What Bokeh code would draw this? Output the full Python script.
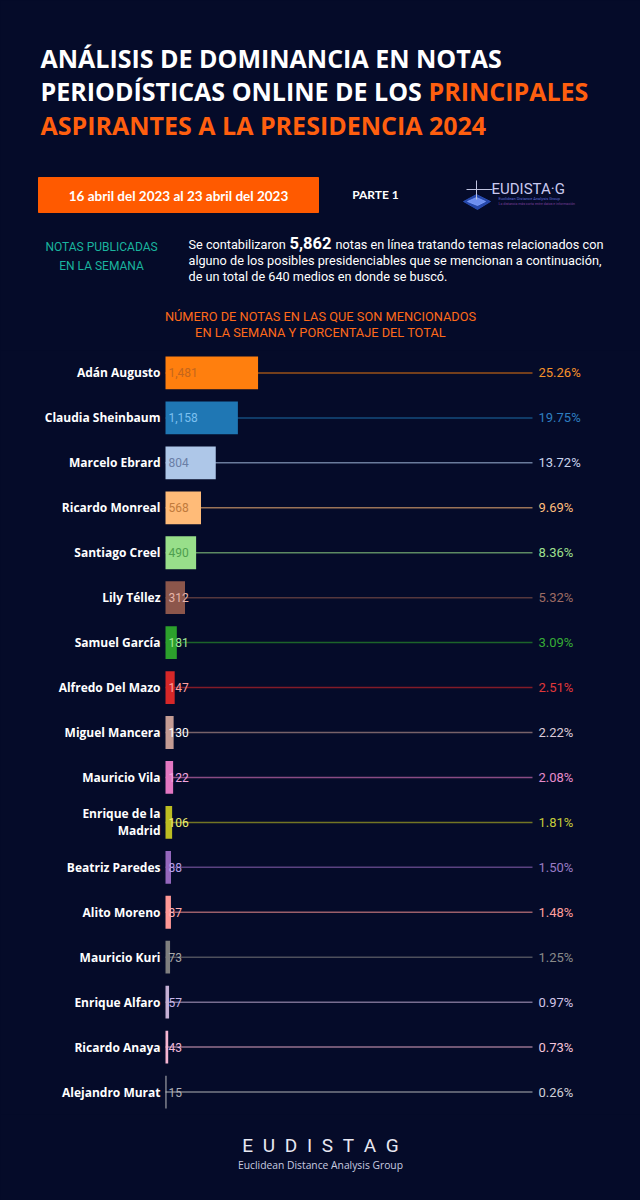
from bokeh.plotting import figure
from bokeh.models import Range1d, FactorRange, Label, ColumnDataSource
from bokeh.layouts import column
from bokeh.embed import file_html
from bokeh.resources import INLINE
from bokeh.core.properties import value

# ---------------- data ----------------
names = ["Adán Augusto", "Claudia Sheinbaum", "Marcelo Ebrard", "Ricardo Monreal",
         "Santiago Creel", "Lily Téllez", "Samuel García", "Alfredo Del Mazo",
         "Miguel Mancera", "Mauricio Vila", "Enrique de la Madrid", "Beatriz Paredes",
         "Alito Moreno", "Mauricio Kuri", "Enrique Alfaro", "Ricardo Anaya",
         "Alejandro Murat"]
name_labels = [n if n != "Enrique de la Madrid" else "Enrique de la\nMadrid" for n in names]
counts = [1481, 1158, 804, 568, 490, 312, 181, 147, 130, 122, 106, 88, 87, 73, 57, 43, 15]
percents = [25.26, 19.75, 13.72, 9.69, 8.36, 5.32, 3.09, 2.51, 2.22, 2.08, 1.81,
            1.50, 1.48, 1.25, 0.97, 0.73, 0.26]
total_notes = "5,862"

bar_colors = ["#ff7f0e", "#1f77b4", "#aec7e8", "#ffbb78", "#98df8a", "#8c564b",
              "#2ca02c", "#d62728", "#c49c94", "#e377c2", "#bcbd22", "#9467bd",
              "#ff9896", "#7f7f7f", "#c5b0d5", "#f7b6d2", "#c7c7c7"]
value_colors = ["#c4661c", "#7cc0f0", "#6a7ea6", "#c07a3c", "#4e9e4e", "#e6b4a8",
                "#a2ec96", "#ffa0a0", "#ffffff", "#f3a8e0", "#f0f070", "#b8a0e8",
                "#ffb0b0", "#a8a8a8", "#c8b8e8", "#f0b8d8", "#b0b0b8"]
pct_colors = ["#f7922a", "#2e7ec0", "#c8d3ec", "#ffbe7d", "#9fe08f", "#9e6b63",
              "#36ad36", "#e0383a", "#dccbd8", "#e58ccc", "#c5cb3a", "#9a7bc6",
              "#ff9f9c", "#8a8a8a", "#d2c4e6", "#f6c4da", "#d0d0d8"]

BG = "#050b29"
ORANGE = "#ff5f0f"
TEAL = "#1ab49e"
W = 640


def base_fig(w, h, xr, yr):
    f = figure(width=w, height=h, x_range=xr, y_range=yr, toolbar_location=None,
               output_backend="svg", min_border=0, background_fill_color=BG,
               border_fill_color=BG, outline_line_color=None)
    f.axis.visible = False
    f.grid.visible = False
    return f


def lab(f, x, y, text, size="12px", color="white", font="Roboto", style="normal",
        align="left"):
    f.add_layout(Label(x=x, y=y, text=text, text_font=font, text_font_size=size,
                       text_color=color, text_font_style=style, text_align=align,
                       text_baseline="middle"))


# ---------------- header ----------------
head = base_fig(W, 350, Range1d(0, W), Range1d(350, 0))
TF = "Open Sans"
lab(head, 40, 57, "ANÁLISIS DE DOMINANCIA EN NOTAS", "25px", "white", TF, "bold")
lab(head, 40, 90, "PERIODÍSTICAS ONLINE DE LOS", "25px", "white", TF, "bold")
lab(head, 428, 90, "PRINCIPALES", "25px", ORANGE, TF, "bold")
lab(head, 40, 124, "ASPIRANTES A LA PRESIDENCIA 2024", "25px", ORANGE, TF, "bold")

head.quad(left=[38], right=[318], top=[177], bottom=[212], color="#ff5a00")
lab(head, 178, 195, "16 abril del 2023 al 23 abril del 2023", "13.5px", "white", "Lato",
    "bold", "center")
lab(head, 375, 194, "PARTE 1", "12px", "white", "Lato", "bold", "center")

# logo (approximation)
head.patch(x=[463, 476, 490, 477], y=[201, 194, 201, 209], color="#2a4fb8", alpha=0.9)
head.patch(x=[467, 476, 485, 477], y=[201, 197, 201, 205], color="#7fa0ff", alpha=0.8)
head.segment(x0=[476, 466], y0=[180, 189], x1=[476, 492], y1=[199, 189],
             line_color="#c0c4e0", line_width=1)
lab(head, 491, 188, "EUDISTA·G", "15px", "#c9c9ef", "Roboto", "normal")
lab(head, 498, 198, "Euclidean Distance Analysis Group", "4px", "#5c6ad8", "Roboto")
lab(head, 498, 203, "La distancia más corta entre datos e información", "3.5px",
    "#7a3f9a", "Roboto")

lab(head, 101, 246, "NOTAS PUBLICADAS", "12px", TEAL, "Roboto", "normal", "center")
lab(head, 101, 265, "EN LA SEMANA", "12px", TEAL, "Roboto", "normal", "center")

lab(head, 188, 244, "Se contabilizaron", "12.7px", "white", "Roboto")
lab(head, 289, 242, total_notes, "16.5px", "white", "Roboto", "bold")
lab(head, 335, 244, "notas en línea tratando temas relacionados con", "12.7px", "white",
    "Roboto")
lab(head, 188, 260, "alguno de los posibles presidenciables que se mencionan a continuación,",
    "12.7px", "white", "Roboto")
lab(head, 188, 276, "de un total de 640 medios en donde se buscó.", "12.7px", "white",
    "Roboto")

lab(head, 320, 316, "NÚMERO DE NOTAS EN LAS QUE SON MENCIONADOS", "12.8px", "#ff6a1a",
    "Roboto", "normal", "center")
lab(head, 320, 332, "EN LA SEMANA Y PORCENTAJE DEL TOTAL", "12.8px", "#ff6a1a",
    "Roboto", "normal", "center")

# ---------------- chart ----------------
UPX = 16.0          # data units per pixel
ZERO_PX = 165       # pixel position of zero inside the chart figure
LINE_END = 367 * UPX
chart = base_fig(W, 764, Range1d(-ZERO_PX * UPX, (W - ZERO_PX) * UPX),
                 FactorRange(factors=names[::-1]))

src = ColumnDataSource(dict(
    name=names, label=name_labels, count=counts,
    count_txt=[f"{c:,}" for c in counts],
    pct_txt=[f"{p:.2f}%" for p in percents],
    color=bar_colors, vcolor=value_colors, pcolor=pct_colors,
    zero=[0] * len(names), end=[LINE_END] * len(names),
))

chart.segment(x0="zero", y0="name", x1="end", y1="name", line_color="color",
              line_alpha=0.6, line_width=1.5, source=src)
chart.hbar(y="name", left=0, right="count", height=0.73, fill_color="color",
           line_color=None, source=src)
chart.text(x="zero", y="name", text="count_txt", x_offset=3, text_baseline="middle",
           text_align="left", text_color="vcolor", text_font=value("Roboto"),
           text_font_size="12px", source=src)
chart.text(x="zero", y="name", text="label", x_offset=-5, text_baseline="middle",
           text_align="right", text_color="white", text_font=value("Open Sans"),
           text_font_style="bold", text_font_size="12px", text_line_height=1.0,
           source=src)
chart.text(x="end", y="name", text="pct_txt", x_offset=6, text_baseline="middle",
           text_align="left", text_color="pcolor", text_font=value("Roboto"),
           text_font_size="13px", source=src)

# ---------------- footer ----------------
foot = base_fig(W, 86, Range1d(0, W), Range1d(1200, 1114))
lab(foot, 320, 1145, "E\u2002U\u2002D\u2002I\u2002S\u2002T\u2002A\u2002G", "19px",
    "#e8e8f2", "Roboto", "normal", "center")
lab(foot, 320, 1164, "Euclidean Distance Analysis Group", "10.3px", "#c8cce0",
    "Open Sans", "normal", "center")

layout = column(head, chart, foot, spacing=0)

TEMPLATE = """{% block preamble %}<style>html, body { background: #050b29; }</style>{% endblock %}
"""
html = file_html(layout, INLINE, title="Análisis de dominancia", template=TEMPLATE)
open("out.html", "w").write(html)
